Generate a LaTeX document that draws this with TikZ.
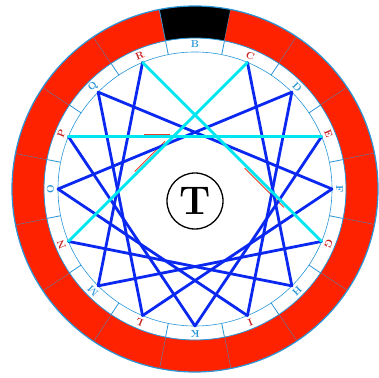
\documentclass[tikz,border=0pt]{standalone}
\usetikzlibrary{calc}
\begin{document}
\begin{tikzpicture}[x=1pt,y=1pt,
  ringline/.style={draw=lblue,line width=0.8pt},
  bl/.style={draw=sblue,line width=2.8pt,line cap=round},
  cy/.style={draw=scyan,line width=2.8pt,line cap=round},
  rd/.style={draw=sred,line width=0.8pt},
  lblb/.style={text=lblue,font=\fontsize{10}{10}\selectfont\bfseries,inner sep=0pt},
  lblr/.style={text=lred,font=\fontsize{10}{10}\selectfont\bfseries,inner sep=0pt}]
\definecolor{lblue}{RGB}{40,150,215}
\definecolor{sblue}{RGB}{10,40,240}
\definecolor{scyan}{RGB}{0,230,240}
\definecolor{ringred}{RGB}{255,34,0}
\definecolor{sred}{RGB}{230,60,40}
\definecolor{lred}{RGB}{200,30,30}
\useasboundingbox (0,0) rectangle (379,377);
\begin{scope}[shift={(195,188)}]
  % ring segments
  \foreach \i in {0,...,15}{
    \pgfmathsetmacro\a{90-22.5*\i}
    \pgfmathsetmacro\s{\a-11.25}
    \pgfmathsetmacro\e{\a+11.25}
    \ifnum\i=0 \def\fc{black}\else\def\fc{ringred}\fi
    \fill[\fc] (\s:151) arc[start angle=\s,end angle=\e,radius=151]
      -- (\e:183) arc[start angle=\e,end angle=\s,radius=183] -- cycle;
    \draw[ringline] (\s:137) -- (\s:183);
  }
  \draw[ringline,line width=1.2pt] (0,0) circle[radius=183];
  \draw[ringline] (0,0) circle[radius=151];
  \draw[ringline,line width=0.6pt] (0,0) circle[radius=137];
  % vertices and labels
  \foreach \n/\i/\st in {B/0/lblb,C/1/lblr,D/2/lblb,E/3/lblr,F/4/lblb,G/5/lblr,H/6/lblb,I/7/lblr,K/8/lblb,L/9/lblr,M/10/lblb,N/11/lblr,O/12/lblb,P/13/lblr,Q/14/lblb,R/15/lblr}{
    \pgfmathsetmacro\a{90-22.5*\i}
    \coordinate (v\n) at (\a:137);
    \node[\st,rotate=\a-90] (t\n) at (\a:144.5) {\n};
  }
  % thin red fragments beside the cyan chords
  \coordinate (ra1) at ($(vR)!0.58!(vG)+(-1.8,-1.8)$);
  \coordinate (ra2) at ($(vR)!0.80!(vG)+(-1.8,-1.8)$);
  \coordinate (rb1) at ($(vC)!0.45!(vN)+(-1.8,1.8)$);
  \coordinate (rb2) at ($(vC)!0.62!(vN)+(-1.8,1.8)$);
  \coordinate (rc1) at ($(vP)!0.30!(vE)+(0,2.2)$);
  \coordinate (rc2) at ($(vP)!0.40!(vE)+(0,2.2)$);
  \draw[rd] (ra1) -- (ra2);
  \draw[rd] (rb1) -- (rb2);
  \draw[rd] (rc1) -- (rc2);
  % blue chords (five triangles)
  \foreach \p/\q in {D/I,I/O,O/D, F/L,L/Q,Q/F, E/K,K/P, M/G,R/M, H/N,C/H}{
    \draw[bl] (v\p) -- (v\q);
  }
  % cyan chords
  \draw[cy] (vR) -- (vG);
  \draw[cy] (vC) -- (vN);
  \draw[cy] (vP) -- (vE);
  % centre
  \node[draw=black,line width=1.3pt,circle,minimum size=56pt,inner sep=0pt,
        font=\fontsize{40}{40}\selectfont\bfseries] (T) at (0,-12) {T};
\end{scope}
\end{tikzpicture}
\end{document}
